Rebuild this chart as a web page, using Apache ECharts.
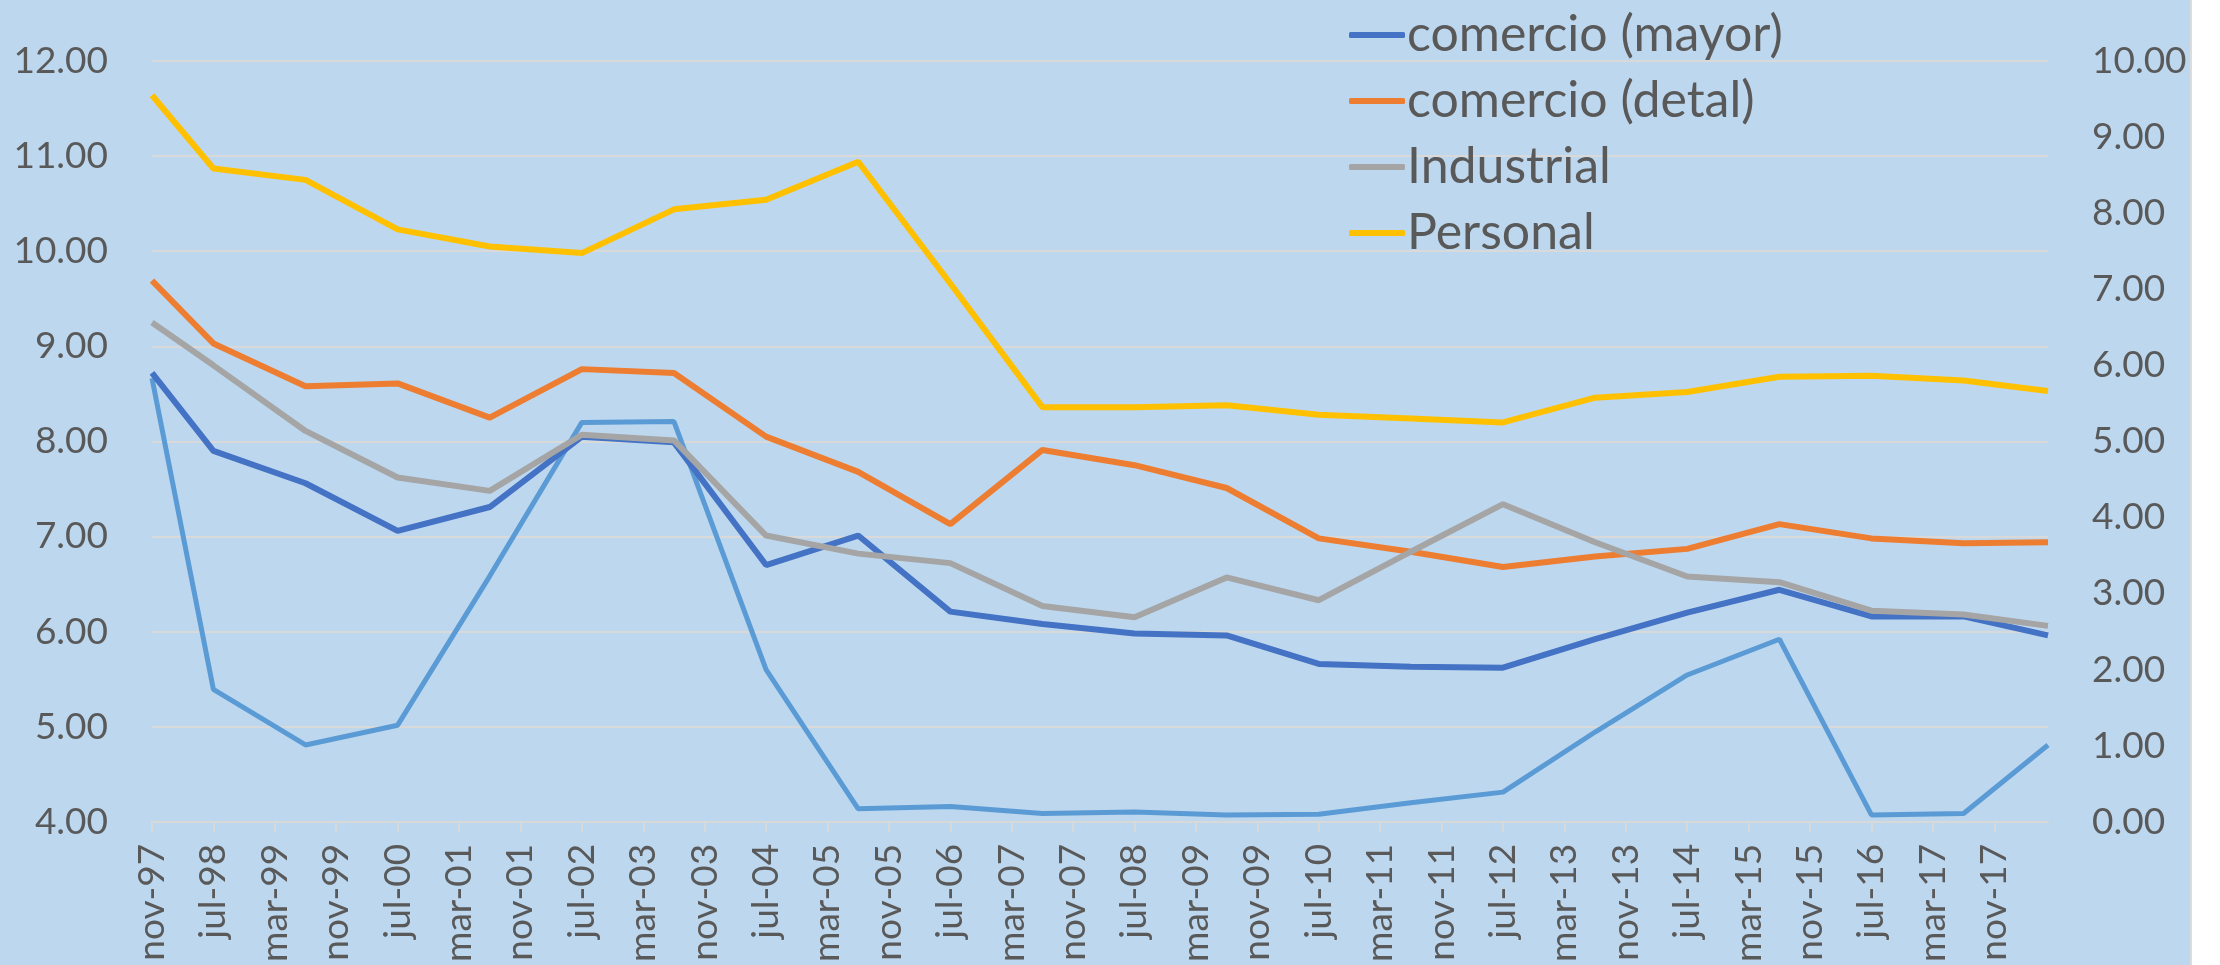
<!DOCTYPE html>
<html>
<head>
<meta charset="utf-8">
<script src="https://cdn.jsdelivr.net/npm/echarts@6/dist/echarts.min.js"></script>
<style>
  html, body { margin: 0; padding: 0; background: #ffffff; }
  #chart { width: 2190px; height: 965px; border-right: 2px solid #dcdcdc; }
</style>
</head>
<body>
<div id="chart"></div>
<script>
// fechas de cada observación
const dates = ['nov-97', 'jul-98', 'jul-99', 'jul-00', 'jul-01', 'jul-02', 'jul-03',
  'jul-04', 'jul-05', 'jul-06', 'jul-07', 'jul-08', 'jul-09', 'jul-10', 'jul-11',
  'jul-12', 'jul-13', 'jul-14', 'jul-15', 'jul-16', 'jul-17', 'jun-18']

// etiquetas del eje x (cada 8 meses)
const tickLabels = ['nov-97', 'jul-98', 'mar-99', 'nov-99', 'jul-00', 'mar-01', 'nov-01',
  'jul-02', 'mar-03', 'nov-03', 'jul-04', 'mar-05', 'nov-05', 'jul-06', 'mar-07', 'nov-07',
  'jul-08', 'mar-09', 'nov-09', 'jul-10', 'mar-11', 'nov-11', 'jul-12', 'mar-13', 'nov-13',
  'jul-14', 'mar-15', 'nov-15', 'jul-16', 'mar-17', 'nov-17']

const comercioMayor = [8.72, 7.90, 7.56, 7.06, 7.31, 8.05, 7.99, 6.70, 7.01, 6.21, 6.08,
  5.98, 5.96, 5.66, 5.63, 5.62, 5.92, 6.20, 6.44, 6.16, 6.16, 5.96]
const comercioDetal = [9.69, 9.03, 8.58, 8.61, 8.25, 8.76, 8.72, 8.05, 7.68, 7.13, 7.91,
  7.75, 7.51, 6.98, 6.84, 6.68, 6.79, 6.87, 7.13, 6.98, 6.93, 6.94]
const industrial = [9.25, 8.80, 8.11, 7.62, 7.48, 8.07, 8.01, 7.01, 6.82, 6.72, 6.27,
  6.15, 6.57, 6.33, 6.84, 7.34, 6.94, 6.58, 6.52, 6.22, 6.18, 6.06]
const personal = [11.64, 10.87, 10.75, 10.23, 10.05, 9.98, 10.44, 10.54, 10.94, 9.66, 8.36,
  8.36, 8.38, 8.28, 8.24, 8.20, 8.46, 8.52, 8.68, 8.69, 8.64, 8.53]
// serie en el eje derecho (sin entrada en la leyenda)
const tasaDerecha = [5.83, 1.74, 1.01, 1.27, 3.23, 5.25, 5.26, 2.00, 0.17, 0.20, 0.11,
  0.13, 0.09, 0.10, 0.25, 0.39, 1.18, 1.93, 2.40, 0.09, 0.11, 1.01]

const meses = ['ene', 'feb', 'mar', 'abr', 'may', 'jun', 'jul', 'ago', 'sep', 'oct', 'nov', 'dic']
function toMonths(label) {
  const [m, y] = label.split('-')
  const yy = parseInt(y, 10)
  const year = yy < 50 ? 2000 + yy : 1900 + yy
  return year * 12 + meses.indexOf(m)
}
const tickValues = tickLabels.map(toMonths)
const labelByValue = {}
tickLabels.forEach(function (l) { labelByValue[toMonths(l)] = l })

function pairs(values) {
  return values.map(function (v, i) { return [toMonths(dates[i]), v] })
}

const font = 'Lato, "Open Sans", sans-serif'
const textColor = '#595959'
const gridColor = '#d9d9d9'

const chart = echarts.init(document.getElementById('chart'), null, { renderer: 'canvas' })

const option = {
  backgroundColor: '#bdd7ee',
  animation: false,
  textStyle: { fontFamily: font },
  grid: { left: 152, right: 142, top: 61, bottom: 133, containLabel: false },
  legend: {
    orient: 'vertical',
    left: 1344,
    top: 5,
    itemWidth: 56,
    itemHeight: 6,
    itemGap: 16,
    icon: 'roundRect',
    data: ['comercio (mayor)', 'comercio (detal)', 'Industrial', 'Personal'],
    textStyle: { fontSize: 50, color: textColor, fontFamily: font, lineHeight: 50, padding: [0, 0, 0, -3] }
  },
  xAxis: {
    type: 'value',
    min: toMonths(dates[0]),
    max: toMonths(dates[dates.length - 1]),
    splitLine: { show: false },
    axisLine: { show: true, lineStyle: { color: gridColor, width: 2 } },
    axisTick: {
      show: true,
      customValues: tickValues,
      length: 10,
      lineStyle: { color: gridColor, width: 2 }
    },
    axisLabel: {
      customValues: tickValues,
      rotate: 90,
      margin: 22,
      fontSize: 37,
      color: textColor,
      fontFamily: font,
      formatter: function (v) { return labelByValue[v] || '' }
    }
  },
  yAxis: [
    {
      type: 'value',
      min: 4,
      max: 12,
      interval: 1,
      axisLine: { show: false },
      axisTick: { show: false },
      splitLine: { show: true, lineStyle: { color: gridColor, width: 2 } },
      axisLabel: {
        margin: 44,
        fontSize: 37,
        color: textColor,
        fontFamily: font,
        formatter: function (v) { return v.toFixed(2) }
      }
    },
    {
      type: 'value',
      min: 0,
      max: 10,
      interval: 1,
      position: 'right',
      axisLine: { show: false },
      axisTick: { show: false },
      splitLine: { show: false },
      axisLabel: {
        margin: 44,
        fontSize: 37,
        color: textColor,
        fontFamily: font,
        formatter: function (v) { return v.toFixed(2) }
      }
    }
  ],
  series: [
    {
      name: 'tasa',
      type: 'line',
      yAxisIndex: 1,
      symbol: 'none',
      data: pairs(tasaDerecha),
      lineStyle: { color: '#5b9bd5', width: 5 },
      itemStyle: { color: '#5b9bd5' }
    },
    {
      name: 'comercio (mayor)',
      type: 'line',
      symbol: 'none',
      data: pairs(comercioMayor),
      lineStyle: { color: '#4472c4', width: 6 },
      itemStyle: { color: '#4472c4' }
    },
    {
      name: 'comercio (detal)',
      type: 'line',
      symbol: 'none',
      data: pairs(comercioDetal),
      lineStyle: { color: '#ed7d31', width: 6 },
      itemStyle: { color: '#ed7d31' }
    },
    {
      name: 'Industrial',
      type: 'line',
      symbol: 'none',
      data: pairs(industrial),
      lineStyle: { color: '#a5a5a5', width: 6 },
      itemStyle: { color: '#a5a5a5' }
    },
    {
      name: 'Personal',
      type: 'line',
      symbol: 'none',
      data: pairs(personal),
      lineStyle: { color: '#ffc000', width: 6 },
      itemStyle: { color: '#ffc000' }
    }
  ]
}

chart.setOption(option)
</script>
</body>
</html>
